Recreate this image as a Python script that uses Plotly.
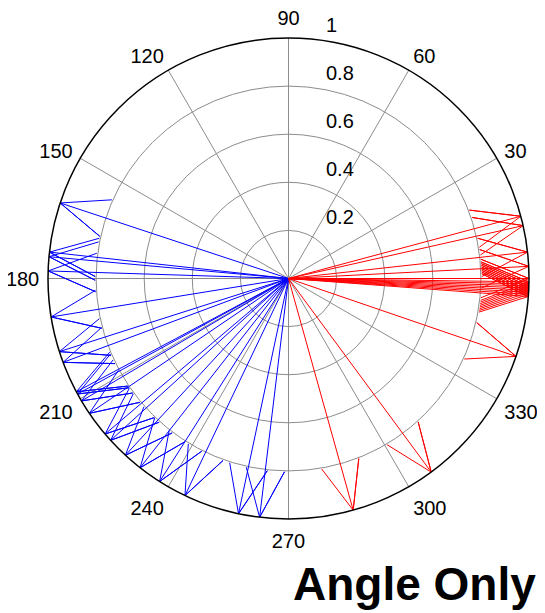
import numpy as np
import plotly.graph_objects as go

# ---- data (angles in degrees, unit magnitude: "angle only") ----
red_angles = [15.0, 12.7, 6.3, 2.9, 0.0, -0.8, -1.3, -1.8, -2.3, -2.8, -3.3, -3.8, -4.3,
              341.1, 306.4, 285.6]
blue_angles = [161.7, 173.7, 174.8, 178.2, 189.2, 197.7, 200.4, 208.1, 208.7,
               210.6, 214.1, 220.3, 222.3, 227.3, 231.9, 237.6, 244.5, 258.0, 263.1]
magnitude = 1.0
radial_ticks = [0.2, 0.4, 0.6, 0.8, 1.0]
radial_labels = ["0.2", "0.4", "0.6", "0.8", "1"]
angle_ticks = list(range(0, 360, 30))
title_text = "Angle Only"

W, H = 545, 613
OFF = 8  # page body margin offset of the plot div


def compass(angles, mag):
    """MATLAB compass-style arrows: 0 -> tip -> head1 -> tip -> head2."""
    head_r = mag * np.hypot(0.8, 0.08)
    head_a = np.degrees(np.arctan2(0.08, 0.8))
    r, t = [], []
    for a in angles:
        r += [0, mag, head_r, mag, head_r, None]
        t += [a, a, a + head_a, a, a - head_a, None]
    return r, t


fig = go.Figure()
for angles, color in [(blue_angles, "#0000ff"), (red_angles, "#ff0000")]:
    r, t = compass(angles, magnitude)
    fig.add_trace(go.Scatterpolar(r=r, theta=t, mode="lines",
                                  line=dict(color=color, width=1),
                                  cliponaxis=False, hoverinfo="skip",
                                  showlegend=False))

fig.update_layout(
    width=W, height=H,
    margin=dict(l=0, r=0, t=0, b=0),
    paper_bgcolor="white",
    font=dict(family="Arial, Liberation Sans, sans-serif", size=20, color="black"),
    polar=dict(
        domain=dict(x=[(48 - OFF) / W, (529 - OFF) / W],
                    y=[1 - (519 - OFF) / H, 1 - (38 - OFF) / H]),
        bgcolor="white",
        radialaxis=dict(range=[0, 1], tickvals=radial_ticks,
                        ticktext=[s + "<br> " for s in radial_labels],
                        angle=90, tickangle=90, side="clockwise",
                        showline=False, ticks="outside", ticklen=33,
                        tickcolor="rgba(0,0,0,0)",
                        gridcolor="#8c8c8c", gridwidth=1,
                        tickfont=dict(size=20)),
        angularaxis=dict(tickvals=angle_ticks, ticktext=[str(a) for a in angle_ticks],
                         rotation=0, direction="counterclockwise",
                         showline=True, linecolor="black", linewidth=1.5,
                         gridcolor="#8c8c8c", gridwidth=1,
                         ticks="outside", ticklen=4, tickcolor="rgba(0,0,0,0)",
                         tickfont=dict(size=20)),
    ),
    annotations=[dict(text="<b>" + title_text + "</b>", xref="paper", yref="paper",
                      x=(538 - OFF) / W, y=1 - (612 - OFF) / H,
                      xanchor="right", yanchor="bottom",
                      showarrow=False, font=dict(size=46, color="black"))],
)

fig.write_html("out.html")
